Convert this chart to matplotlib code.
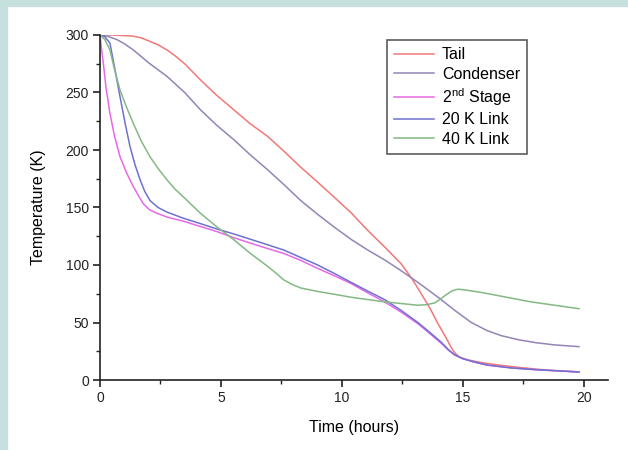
import matplotlib
matplotlib.use("Agg")
import matplotlib.pyplot as plt
from matplotlib.patches import Rectangle
from matplotlib.ticker import MultipleLocator

plt.rcParams['font.family'] = ['Liberation Sans', 'DejaVu Sans']
plt.rcParams['mathtext.fontset'] = 'custom'
plt.rcParams['mathtext.rm'] = 'Liberation Sans'

tail_t = [0, 0.5, 1.0, 1.38, 1.7, 2, 2.4, 2.77, 3.1, 3.5, 4.15, 4.8, 5.53, 6.2, 6.92, 7.6, 8.3, 9.0, 9.68, 10.4, 11.07, 11.8, 12.45, 12.9, 13.28, 13.65, 13.97, 14.3, 14.5, 14.65, 14.85, 15.2, 15.8, 16.5, 17.3, 18.5, 19.8]
tail_T = [300, 300, 299.5, 299, 297.5, 295, 291.5, 287, 282, 275, 261, 248, 235, 223, 212, 199, 185, 172, 159, 145, 130, 115, 101, 88, 75, 62, 49, 37, 29, 24, 20, 17.5, 15, 13, 11, 8.5, 7]

cond_t = [0, 0.3, 0.7, 1.0, 1.38, 2.0, 2.77, 3.5, 4.15, 4.8, 5.53, 6.2, 6.92, 7.6, 8.3, 9.0, 9.68, 10.4, 11.07, 11.8, 12.45, 13.2, 13.97, 14.7, 15.35, 16, 16.6, 17.3, 18.0, 18.8, 19.8]
cond_T = [300, 299, 296, 292.5, 287, 276, 264, 250, 235, 222, 209, 196, 183, 170, 156, 144, 133, 122, 113, 104, 95, 84, 72, 60, 50, 43, 38.5, 35, 32.5, 30.5, 29]

st2_t = [0, 0.05, 0.14, 0.25, 0.41, 0.6, 0.83, 1.1, 1.38, 1.6, 1.8, 2.05, 2.35, 2.8, 3.46, 4.15, 4.84, 5.5, 6.22, 6.9, 7.6, 8.3, 9.0, 9.7, 10.37, 11.05, 11.76, 12.45, 13.14, 13.6, 14.1, 14.4, 14.65, 15.0, 15.5, 16, 17, 18, 19.8]
st2_T = [300, 290, 275, 254, 232, 212, 194, 180, 168, 160, 153, 148, 145, 141.5, 138, 133.5, 129, 124, 119, 114.5, 110, 104, 97, 90.5, 84, 76, 68, 59, 49, 41, 32, 26, 22, 18.5, 15.5, 13, 10.5, 9, 7]

l20_t = [0, 0.2, 0.41, 0.6, 0.83, 1.05, 1.24, 1.45, 1.66, 1.85, 2.07, 2.4, 2.77, 3.4, 4.15, 4.8, 5.53, 6.5, 7.6, 8.3, 9.0, 9.7, 10.37, 11.05, 11.76, 12.45, 13.14, 13.6, 14.1, 14.4, 14.65, 15.0, 15.5, 16, 17, 18, 19.8]
l20_T = [300, 298.5, 293, 272, 246, 222, 203, 187, 174, 164, 156, 150, 146, 141, 136, 131.5, 127, 120.5, 113, 106.5, 100, 92.5, 85, 77.5, 70, 60.5, 50, 42, 33, 26.5, 22, 18.5, 15.5, 13, 10.5, 9, 7]

l40_t = [0, 0.2, 0.41, 0.6, 0.83, 1.1, 1.38, 1.7, 2.07, 2.4, 2.77, 3.1, 3.46, 4.15, 4.84, 5.53, 6.22, 6.92, 7.3, 7.6, 7.95, 8.3, 9.0, 9.7, 10.37, 11.05, 11.76, 12.45, 13.14, 13.5, 13.83, 14.05, 14.3, 14.55, 14.8, 15.2, 15.8, 16.8, 17.8, 18.8, 19.8]
l40_T = [300, 296, 287, 270, 252, 237, 223, 208, 194, 184, 174, 166, 159, 145, 133, 122, 110, 99, 92.5, 87, 83, 80, 77, 74.5, 72, 70, 68, 66.5, 65, 65.5, 67, 70, 74, 77.5, 79, 78, 76, 72, 68, 65, 62]

labels = ['Tail', 'Condenser', r'2$^{\mathrm{nd}}$ Stage', '20 K Link', '40 K Link']
colors = ['#f07878', '#9484b4', '#e868e8', '#7070d0', '#84b884']

fig = plt.figure(figsize=(6.28, 4.5), dpi=100)
fig.patch.set_facecolor('white')
fig.patches.append(Rectangle((0, 1 - 6/450), 1, 6/450, transform=fig.transFigure, color='#c6e0e0', zorder=0))
fig.patches.append(Rectangle((0, 0), 7/628, 1, transform=fig.transFigure, color='#c6e0e0', zorder=0))

ax = fig.add_axes([100/628, 70/450, 508/628, 345/450])
series = [(tail_t, tail_T), (cond_t, cond_T), (st2_t, st2_T), (l20_t, l20_T), (l40_t, l40_T)]
for (t, T), lab, c in zip(series, labels, colors):
    ax.plot(t, T, color=c, lw=1.1, label=lab)

ax.set_xlim(0, 21)
ax.set_ylim(0, 300)
ax.spines['top'].set_visible(False)
ax.spines['right'].set_visible(False)
for s in ['left', 'bottom']:
    ax.spines[s].set_linewidth(1.2)
    ax.spines[s].set_color('#222222')
ax.xaxis.set_major_locator(MultipleLocator(5))
ax.xaxis.set_minor_locator(MultipleLocator(2.5))
ax.yaxis.set_major_locator(MultipleLocator(50))
ax.yaxis.set_minor_locator(MultipleLocator(25))
ax.tick_params(which='major', direction='out', length=5, width=1.2, labelsize=10, colors='#222222', pad=3)
ax.tick_params(which='minor', direction='out', length=3, width=1.0, colors='#222222')
ax.set_xlabel('Time (hours)', fontsize=11.5, labelpad=11)
ax.set_ylabel('Temperature (K)', fontsize=11.5, labelpad=14)

leg = ax.legend(loc='upper left', bbox_to_anchor=(287/508, 1 - 5/345), fontsize=11.5,
                frameon=True, fancybox=False, edgecolor='#333333', handlelength=2.5,
                handletextpad=0.5, labelspacing=0.28, borderpad=0.45, borderaxespad=0)
leg.get_frame().set_linewidth(1.2)

fig.savefig('out.png', dpi=100)
